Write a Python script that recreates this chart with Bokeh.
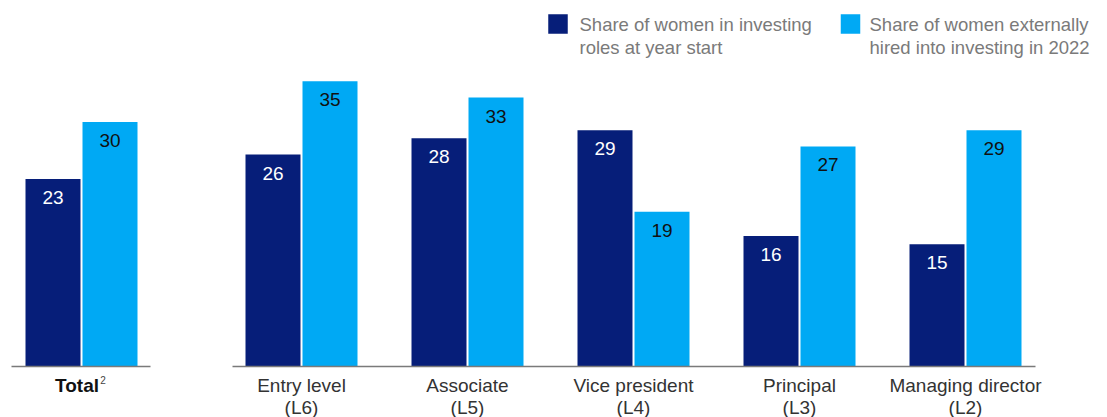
from bokeh.plotting import figure
from bokeh.models import Range1d
from bokeh.core.properties import value
from bokeh.embed import file_html
from bokeh.resources import INLINE

# ---- data ----
categories = ["Total", "Entry level", "Associate", "Vice president", "Principal", "Managing director"]
levels = ["", "(L6)", "(L5)", "(L4)", "(L3)", "(L2)"]
women_start = [23, 26, 28, 29, 16, 15]
women_hired = [30, 35, 33, 19, 27, 29]
series_names = ["Share of women in investing\nroles at year start",
                "Share of women externally\nhired into investing in 2022"]

# ---- style / layout ----
DARK = "#061E79"
LIGHT = "#00A9F4"
FONT = "Liberation Sans"
W, H = 1107, 417
BASE_PX = 366.0          # baseline in picture pixels
S = 8.15                 # pixels per percentage point
centers = [81, 301, 467, 633, 799, 965]
OFF, BW = 28.5, 55


def yd(py):
    return (BASE_PX - py) / S


p = figure(width=W, height=H, output_backend="svg", toolbar_location=None,
           x_range=Range1d(0, W), y_range=Range1d(yd(H), yd(0)),
           x_axis_location=None, y_axis_location=None, min_border=0)
p.outline_line_color = None
p.xgrid.visible = False
p.ygrid.visible = False
p.background_fill_color = "white"
p.border_fill_color = "white"

xd = [c - OFF for c in centers]
xl = [c + OFF for c in centers]
p.vbar(x=xd, top=women_start, bottom=0, width=BW, fill_color=DARK, line_color=None)
p.vbar(x=xl, top=women_hired, bottom=0, width=BW, fill_color=LIGHT, line_color=None)

# baselines
p.segment(x0=[11, 232], x1=[150, 1035], y0=[0, 0], y1=[0, 0], line_color="#7a7a7a", line_width=1.5)

# value labels
p.text(x=xd, y=[v - 18.5 / S for v in women_start], text=[str(v) for v in women_start],
       text_align="center", text_baseline="middle", text_color="white",
       text_font=value(FONT), text_font_size="19px")
p.text(x=xl, y=[v - 18.5 / S for v in women_hired], text=[str(v) for v in women_hired],
       text_align="center", text_baseline="middle", text_color="#111111",
       text_font=value(FONT), text_font_size="19px")

# category labels
p.text(x=[76.5], y=[yd(385)], text=[categories[0]], text_align="center",
       text_baseline="middle", text_color="#111111", text_font=value(FONT),
       text_font_size="19px", text_font_style="bold")
p.text(x=[102.5], y=[yd(379.5)], text=["2"], text_align="center",
       text_baseline="middle", text_color="#444444", text_font=value(FONT),
       text_font_size="10px")
p.text(x=centers[1:], y=[yd(385)] * 5, text=categories[1:], text_align="center",
       text_baseline="middle", text_color="#333333", text_font=value(FONT),
       text_font_size="19px")
p.text(x=centers[1:], y=[yd(407)] * 5, text=levels[1:], text_align="center",
       text_baseline="middle", text_color="#333333", text_font=value(FONT),
       text_font_size="19px")

# legend
leg_sq_x = [557.5, 850]
leg_tx_x = [579, 869]
p.rect(x=leg_sq_x, y=[yd(23.5)] * 2, width=19.5, height=19.5, width_units="screen",
       height_units="screen", fill_color=[DARK, LIGHT], line_color=None)
for i, name in enumerate(series_names):
    l1, l2 = name.split("\n")
    p.text(x=[leg_tx_x[i]] * 2, y=[yd(24), yd(47)], text=[l1, l2], text_align="left",
           text_baseline="middle", text_color="#7a7a7a", text_font=value(FONT),
           text_font_size="18.5px")

open("out.html", "w").write(file_html(p, INLINE))
